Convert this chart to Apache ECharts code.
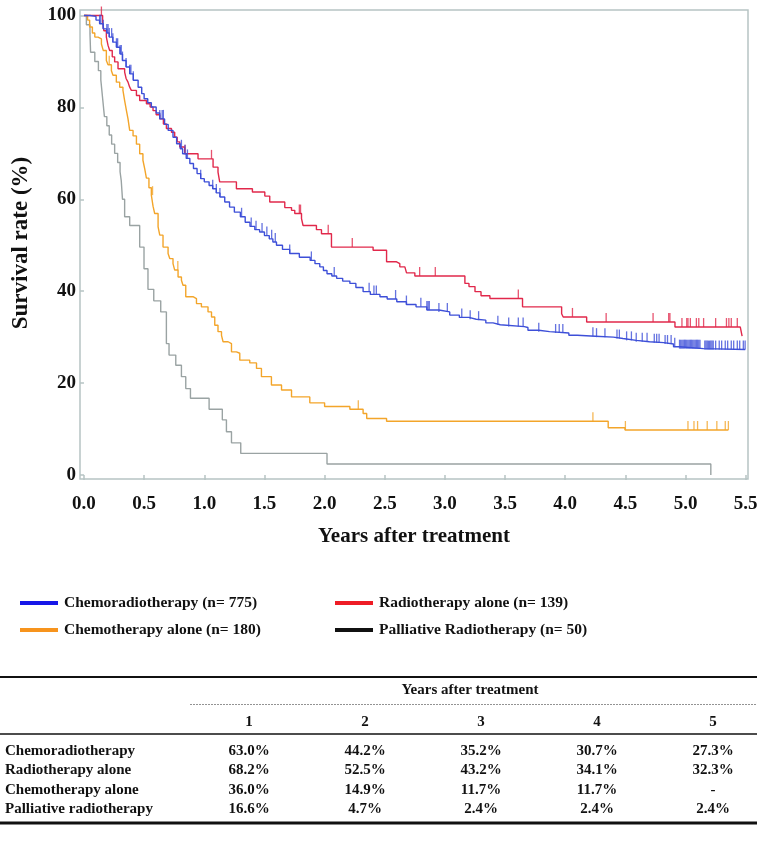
<!DOCTYPE html>
<html><head><meta charset="utf-8">
<script src="https://cdn.jsdelivr.net/npm/echarts@6/dist/echarts.min.js"></script>
<style>html,body{margin:0;padding:0;background:#fff}#c{width:767px;height:852px}</style>
</head><body><div id="c"></div>
<script>
// ---------- DATA ----------
const xTicks = [0, 0.5, 1, 1.5, 2, 2.5, 3, 3.5, 4, 4.5, 5, 5.5];
const yTicks = [0, 20, 40, 60, 80, 100];

// Kaplan-Meier step points [years, survival %] (value after each drop)
const chemoradio = [[0,100],[0.05,99.8],[0.10,99.0],[0.13,98.2],[0.16,97.1],[0.19,96.2],[0.21,95.3],[0.24,94.2],[0.27,93.1],[0.30,91.6],[0.32,90.2],[0.35,88.8],[0.38,87.3],[0.41,85.9],[0.45,84.4],[0.48,83.0],[0.50,81.9],[0.53,81.0],[0.56,80.1],[0.60,78.8],[0.63,77.5],[0.67,76.3],[0.70,75.0],[0.74,73.5],[0.77,72.1],[0.80,71.0],[0.82,69.9],[0.85,68.9],[0.88,67.8],[0.91,66.7],[0.94,65.6],[0.97,64.5],[1.00,63.8],[1.04,63.0],[1.07,62.3],[1.10,61.4],[1.13,60.5],[1.17,59.4],[1.21,58.3],[1.25,57.2],[1.30,56.2],[1.34,55.0],[1.38,54.1],[1.42,53.4],[1.46,52.9],[1.50,52.1],[1.54,51.4],[1.57,50.7],[1.60,50.0],[1.65,49.1],[1.71,48.2],[1.79,47.4],[1.88,46.7],[1.92,46.0],[1.96,45.3],[1.99,44.5],[2.02,43.8],[2.06,43.3],[2.10,42.8],[2.15,42.2],[2.21,41.7],[2.26,40.8],[2.32,39.9],[2.38,39.3],[2.46,38.8],[2.52,38.3],[2.60,37.7],[2.68,37.1],[2.76,36.6],[2.85,35.9],[2.95,35.5],[3.04,34.8],[3.12,34.3],[3.20,33.9],[3.26,33.7],[3.34,33.1],[3.40,32.7],[3.46,32.3],[3.66,32.1],[3.69,31.5],[3.78,31.2],[3.87,30.9],[4.03,30.4],[4.10,30.2],[4.25,30.0],[4.40,29.7],[4.48,29.3],[4.59,29.0],[4.70,28.8],[4.82,28.5],[4.90,27.9],[4.95,27.5],[5.15,27.3],[5.496,27.3]];
const radioAlone = [[0,100],[0.155,98.6],[0.165,96.7],[0.186,95.3],[0.20,93.5],[0.214,92.4],[0.235,91.0],[0.255,89.9],[0.283,88.4],[0.338,87.7],[0.35,86.3],[0.366,85.5],[0.38,84.4],[0.394,83.7],[0.436,82.6],[0.463,81.5],[0.519,80.8],[0.55,80.1],[0.574,79.3],[0.60,78.4],[0.63,77.5],[0.66,76.4],[0.685,75.4],[0.727,74.6],[0.754,73.5],[0.775,72.5],[0.796,71.4],[0.837,69.9],[0.948,68.8],[1.073,67.0],[1.114,65.9],[1.128,63.8],[1.267,62.3],[1.40,61.6],[1.503,60.7],[1.544,59.4],[1.669,58.2],[1.725,57.6],[1.752,56.9],[1.808,55.8],[1.821,54.3],[1.932,53.4],[1.974,52.5],[2.057,49.6],[2.403,48.9],[2.515,46.4],[2.598,46.0],[2.625,45.3],[2.667,44.9],[2.681,44.0],[2.75,43.3],[3.166,41.7],[3.20,41.0],[3.25,39.9],[3.30,39.0],[3.374,38.4],[3.645,36.6],[3.97,35.1],[3.983,34.4],[4.178,33.3],[4.912,32.2],[5.455,32.2],[5.47,30.2]];
const chemoAlone = [[0,100],[0.03,99.0],[0.047,97.5],[0.07,96.2],[0.09,95.3],[0.117,94.9],[0.145,93.8],[0.16,92.4],[0.186,90.2],[0.20,89.3],[0.228,88.0],[0.241,87.0],[0.269,85.5],[0.297,84.4],[0.324,83.7],[0.338,81.5],[0.353,79.3],[0.366,77.5],[0.38,75.0],[0.408,73.8],[0.436,72.0],[0.463,69.9],[0.49,68.5],[0.505,66.6],[0.519,64.6],[0.54,62.5],[0.56,60.9],[0.574,58.5],[0.588,56.9],[0.616,54.0],[0.63,52.2],[0.657,49.6],[0.699,48.2],[0.713,47.1],[0.74,46.0],[0.754,44.6],[0.782,43.1],[0.81,42.4],[0.823,41.3],[0.846,38.8],[0.906,38.4],[0.935,37.3],[0.976,36.6],[1.031,35.5],[1.06,34.4],[1.087,32.6],[1.114,31.2],[1.143,30.4],[1.156,29.0],[1.198,28.6],[1.226,26.8],[1.267,26.5],[1.295,25.0],[1.378,24.4],[1.434,23.2],[1.475,21.4],[1.558,19.6],[1.642,18.5],[1.725,17.0],[1.877,15.7],[2.0,14.9],[2.21,14.3],[2.32,13.4],[2.35,12.3],[2.515,11.7],[4.357,10.3],[4.497,9.8],[5.356,9.8]];
const palliative = [[0,100],[0.02,98.0],[0.05,96.0],[0.055,92.0],[0.09,90.0],[0.12,88.0],[0.14,86.0],[0.155,82.0],[0.17,78.0],[0.19,76.0],[0.21,74.0],[0.23,72.0],[0.255,70.0],[0.28,68.0],[0.30,66.0],[0.31,64.0],[0.32,60.0],[0.338,56.2],[0.38,54.3],[0.463,49.6],[0.499,44.9],[0.532,40.4],[0.58,37.9],[0.638,35.5],[0.685,28.6],[0.707,26.1],[0.763,23.9],[0.81,21.4],[0.846,18.8],[0.885,16.7],[1.04,14.3],[1.15,12.0],[1.184,9.4],[1.226,7.0],[1.303,4.7],[2.02,2.4],[5.21,0]];

// censoring times (years)
const chemoradioCensor = [0.13,0.14,0.16,0.19,0.20,0.21,0.23,0.24,0.27,0.28,0.30,0.31,0.32,0.35,0.38,0.39,0.41,0.63,0.65,0.66,0.81,0.84,0.86,0.97,1.07,1.10,1.13,1.31,1.39,1.43,1.48,1.52,1.56,1.59,1.71,1.89,2.08,2.37,2.41,2.43,2.59,2.68,2.80,2.85,2.86,2.87,2.95,3.02,3.14,3.21,3.28,3.44,3.53,3.61,3.65,3.78,3.92,3.95,3.98,4.23,4.26,4.33,4.43,4.45,4.51,4.55,4.59,4.64,4.68,4.74,4.76,4.78,4.83,4.85,4.88,4.91,4.95,4.96,4.97,4.98,4.99,5.00,5.01,5.02,5.03,5.04,5.05,5.06,5.07,5.08,5.09,5.10,5.11,5.12,5.16,5.17,5.18,5.19,5.20,5.21,5.22,5.23,5.25,5.28,5.30,5.33,5.35,5.38,5.40,5.43,5.45,5.48,5.495];
const radioAloneCensor = [0.145,0.84,1.06,1.79,1.80,2.03,2.23,2.79,2.92,3.61,4.06,4.34,4.73,4.86,4.87,4.97,5.01,5.02,5.04,5.09,5.11,5.15,5.25,5.34,5.36,5.38,5.43];
const chemoAloneCensor = [0.21,0.57,0.78,2.28,4.23,4.50,5.02,5.07,5.10,5.18,5.26,5.33,5.356];

const seriesNames = ['Chemoradiotherapy (n= 775)','Radiotherapy alone (n= 139)','Chemotherapy alone (n= 180)','Palliative Radiotherapy (n= 50)'];
const xTitle = 'Years after treatment';
const yTitle = 'Survival rate (%)';

const tableHeader = 'Years after treatment';
const tableYears = ['1','2','3','4','5'];
const tableRowNames = ['Chemoradiotherapy','Radiotherapy alone','Chemotherapy alone','Palliative radiotherapy'];
const tableChemoradio = ['63.0%','44.2%','35.2%','30.7%','27.3%'];
const tableRadio = ['68.2%','52.5%','43.2%','34.1%','32.3%'];
const tableChemo = ['36.0%','14.9%','11.7%','11.7%','-'];
const tablePalliative = ['16.6%','4.7%','2.4%','2.4%','2.4%'];

// ---------- STYLE ----------
const FONT = '"Liberation Serif", "Times New Roman", serif';
const lineColors = ['#3d4fd8', '#e1284b', '#f3a52a', '#9aa3a3'];
const legendColors = ['#1616e8', '#ee1c25', '#f7941d', '#111111'];
const frameColor = '#b6c4c4';

function stepValue(curve, t) {
  let v = curve[0][1];
  for (const p of curve) { if (p[0] <= t + 1e-9) v = p[1]; else break; }
  return v;
}
function censorData(curve, times) { return times.map(t => [t, stepValue(curve, t)]); }

const curves = [chemoradio, radioAlone, chemoAlone, palliative];
const censors = [chemoradioCensor, radioAloneCensor, chemoAloneCensor, null];

const series = [];
curves.forEach((c, i) => {
  series.push({
    type: 'line', step: 'end', data: c, showSymbol: false, symbol: 'none',
    lineStyle: { color: lineColors[i], width: 1.4 }, z: 3 - i + 2, silent: true
  });
});
censors.forEach((cs, i) => {
  if (!cs) return;
  series.push({
    type: 'scatter', data: censorData(curves[i], cs),
    symbol: 'rect', symbolSize: [1.3, 9], symbolOffset: [0, -4.5],
    itemStyle: { color: lineColors[i] }, z: 3 - i + 2, silent: true
  });
});

// ---------- GRAPHIC (titles, legend, table) ----------
const g = [];
const txt = (x, y, s, size, align, extra) => Object.assign({
  type: 'text', x, y, silent: true,
  style: { text: s, fill: '#111', font: 'bold ' + size + 'px ' + FONT, textAlign: align || 'left', textVerticalAlign: 'middle' }
}, extra || {});

g.push(txt(414, 537, xTitle, 21, 'center'));
g.push(txt(21, 243, yTitle, 23, 'center', { rotation: Math.PI / 2 }));

// legend
const legPos = [[20, 603], [335, 603], [20, 630], [335, 630]];
seriesNames.forEach((n, i) => {
  const [lx, ly] = legPos[i];
  g.push({ type: 'line', silent: true, shape: { x1: lx, y1: ly, x2: lx + 38, y2: ly }, style: { stroke: legendColors[i], lineWidth: 4 } });
  g.push(txt(lx + 44, ly, n, 15.5, 'left'));
});

// table
const colX = [249, 365, 481, 597, 713];
g.push({ type: 'line', silent: true, shape: { x1: 0, y1: 677, x2: 757, y2: 677 }, style: { stroke: '#111', lineWidth: 2 } });
g.push(txt(470, 690, tableHeader, 15, 'center'));
g.push({ type: 'line', silent: true, shape: { x1: 190, y1: 704.5, x2: 757, y2: 704.5 }, style: { stroke: '#777', lineWidth: 0.8, lineDash: [2, 1] } });
tableYears.forEach((y, j) => g.push(txt(colX[j], 722, y, 15, 'center')));
g.push({ type: 'line', silent: true, shape: { x1: 0, y1: 734, x2: 757, y2: 734 }, style: { stroke: '#111', lineWidth: 1.5 } });
const rowsVals = [tableChemoradio, tableRadio, tableChemo, tablePalliative];
const rowY = [751, 770.5, 790, 809];
tableRowNames.forEach((r, i) => {
  g.push(txt(5, rowY[i], r, 15, 'left'));
  rowsVals[i].forEach((v, j) => g.push(txt(colX[j], rowY[i], v, 15, 'center')));
});
g.push({ type: 'line', silent: true, shape: { x1: 0, y1: 823, x2: 757, y2: 823 }, style: { stroke: '#111', lineWidth: 3 } });

// ---------- CHART ----------
const chart = echarts.init(document.getElementById('c'), null, { renderer: 'canvas' });
chart.setOption({
  animation: false,
  backgroundColor: '#fff',
  grid: { left: 80, right: 19, top: 10, bottom: 373, show: true, borderColor: frameColor, borderWidth: 1.5, backgroundColor: 'transparent' },
  xAxis: {
    type: 'value', min: -0.033, max: 5.519,
    axisLine: { show: false },
    splitLine: { show: false },
    axisTick: { show: true, customValues: xTicks, length: 5, lineStyle: { color: frameColor, width: 1.5 } },
    axisLabel: { customValues: xTicks, margin: 16, formatter: v => v.toFixed(1), color: '#111', fontFamily: FONT, fontWeight: 'bold', fontSize: 19 }
  },
  yAxis: {
    type: 'value', min: -0.87, max: 101.2,
    axisLine: { show: false },
    splitLine: { show: false },
    axisTick: { show: true, customValues: yTicks, length: 4, lineStyle: { color: frameColor, width: 1.5 } },
    axisLabel: { customValues: yTicks, margin: 4, formatter: v => String(v), color: '#111', fontFamily: FONT, fontWeight: 'bold', fontSize: 19 }
  },
  series: series,
  graphic: g
});
</script>
</body></html>
